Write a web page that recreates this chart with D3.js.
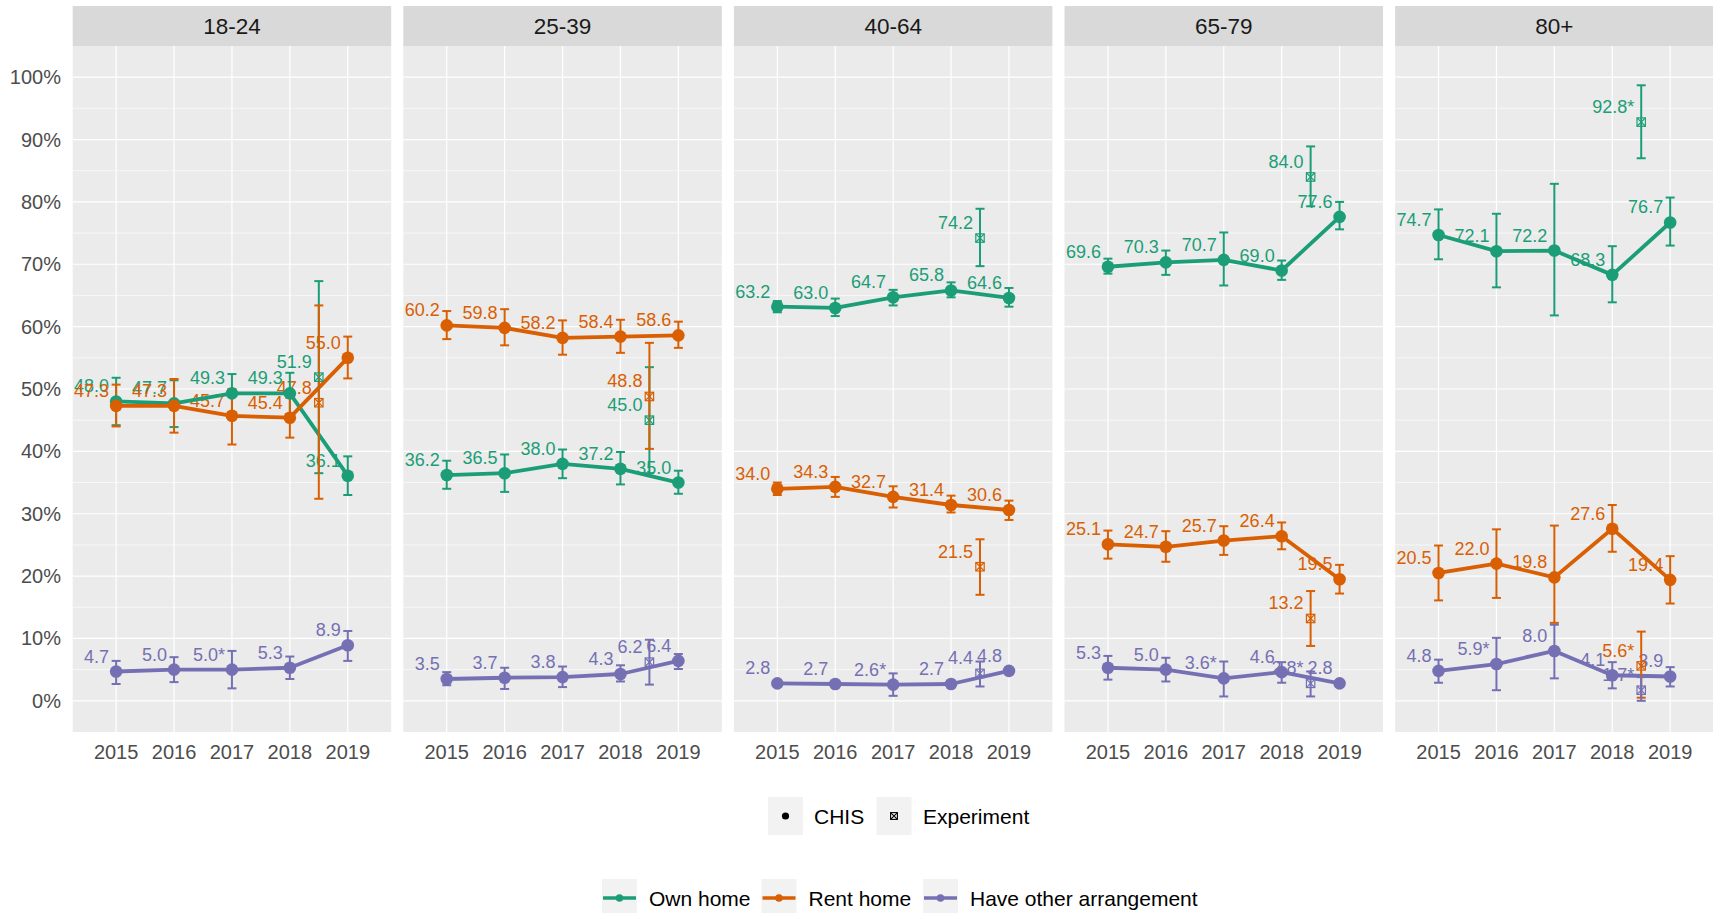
<!DOCTYPE html>
<html>
<head>
<meta charset="utf-8">
<script src="https://cdn.jsdelivr.net/npm/d3@7/dist/d3.min.js"></script>
<style>
  html, body { margin: 0; padding: 0; background: #ffffff; }
  svg { display: block; font-family: "Liberation Sans", Arial, Helvetica, sans-serif; }
</style>
</head>
<body>
<svg id="chart" width="1713" height="913"></svg>
<script>
// ---------------- DATA ----------------
const panels = ["18-24", "25-39", "40-64", "65-79", "80+"];
const years = [2015, 2016, 2017, 2018, 2019];
const expYear = 2018.5;
const seriesNames = ["Own home", "Rent home", "Have other arrangement"];
const seriesColors = ["#1B9E77", "#D95F02", "#7570B3"];
const yTicks = [0, 10, 20, 30, 40, 50, 60, 70, 80, 90, 100];
const sourceNames = ["CHIS", "Experiment"];

// CHIS values [panel][year]
const ownValue  = [[48.0,47.7,49.3,49.3,36.1],[36.2,36.5,38.0,37.2,35.0],[63.2,63.0,64.7,65.8,64.6],[69.6,70.3,70.7,69.0,77.6],[74.7,72.1,72.2,68.3,76.7]];
const ownLow    = [[44.2,43.9,46.2,46.0,33.0],[34.0,33.5,35.7,34.7,33.2],[62.3,61.7,63.4,64.7,63.2],[68.5,68.3,66.6,67.5,75.6],[70.8,66.3,61.8,63.9,73.0]];
const ownHigh   = [[51.8,51.4,52.4,52.6,39.2],[38.5,39.5,40.3,39.9,36.9],[64.1,64.5,65.9,67.1,66.2],[70.9,72.2,75.1,70.6,80.0],[78.8,78.1,82.9,72.9,80.7]];

const rentValue = [[47.3,47.3,45.7,45.4,55.0],[60.2,59.8,58.2,58.4,58.6],[34.0,34.3,32.7,31.4,30.6],[25.1,24.7,25.7,26.4,19.5],[20.5,22.0,19.8,27.6,19.4]];
const rentLow   = [[44.0,43.0,41.1,42.2,51.7],[58.0,57.0,55.5,55.8,56.6],[33.0,32.7,31.0,30.2,29.0],[22.8,22.3,23.4,24.3,17.2],[16.1,16.5,12.5,23.9,15.6]];
const rentHigh  = [[50.7,51.6,50.0,48.6,58.4],[62.5,62.8,61.0,61.1,60.8],[35.0,35.9,34.4,32.9,32.1],[27.3,27.2,28.0,28.6,21.8],[24.9,27.5,28.1,31.4,23.2]];

const otherValue = [[4.7,5.0,5.0,5.3,8.9],[3.5,3.7,3.8,4.3,6.4],[2.8,2.7,2.6,2.7,4.8],[5.3,5.0,3.6,4.6,2.8],[4.8,5.9,8.0,4.1,3.9]];
const otherLow   = [[2.7,3.0,2.0,3.5,6.4],[2.5,1.9,2.2,3.1,5.1],[2.4,2.3,0.8,2.3,4.3],[3.4,3.1,0.7,2.9,2.3],[2.9,1.7,3.6,2.0,2.3]];
const otherHigh  = [[6.4,7.0,8.0,7.1,11.2],[4.6,5.3,5.5,5.7,7.5],[3.2,3.1,4.4,3.1,5.3],[7.2,6.9,6.3,6.2,3.3],[6.6,10.1,12.2,6.2,5.4]];
// asterisk flags (unstable estimate) [panel][year]
const otherStar  = [[0,0,1,0,0],[0,0,0,0,0],[0,0,1,0,0],[0,0,1,0,0],[0,1,0,0,0]];

// Experiment values [panel]
const expOwnValue   = [51.9, 45.0, 74.2, 84.0, 92.8];
const expOwnLow     = [36.5, 36.5, 69.7, 79.3, 87.0];
const expOwnHigh    = [67.3, 53.5, 78.9, 88.9, 98.7];
const expOwnStar    = [0, 0, 0, 0, 1];
const expRentValue  = [47.8, 48.8, 21.5, 13.2, 5.6];
const expRentLow    = [32.4, 40.4, 17.0, 8.8, 0.5];
const expRentHigh   = [63.4, 57.4, 25.9, 17.6, 11.1];
const expRentStar   = [0, 0, 0, 0, 1];
const expOtherValue = [null, 6.2, 4.4, 2.8, 1.7];
const expOtherLow   = [null, 2.6, 2.3, 0.7, 0.0];
const expOtherHigh  = [null, 9.8, 6.3, 4.7, 3.8];
const expOtherStar  = [0, 0, 0, 1, 1];

// ---------------- BUILD ----------------
const chisVals = [ownValue, rentValue, otherValue];
const chisLows = [ownLow, rentLow, otherLow];
const chisHighs = [ownHigh, rentHigh, otherHigh];
const chisStars = [null, null, otherStar];
const expVals = [expOwnValue, expRentValue, expOtherValue];
const expLows = [expOwnLow, expRentLow, expOtherLow];
const expHighs = [expOwnHigh, expRentHigh, expOtherHigh];
const expStars = [expOwnStar, expRentStar, expOtherStar];

const svg = d3.select("#chart");

const panelLeft0 = 72.7, panelStep = 330.6, panelW = 318.5;
const stripTop = 6, stripH = 40, plotTop = 46, plotBottom = 732;

const y = d3.scaleLinear().domain([-5, 105]).range([plotBottom, plotTop]);
const fmt = d3.format(".1f");

// y axis labels (left only)
svg.append("g").selectAll("text").data(yTicks).join("text")
  .attr("x", 61).attr("y", d => y(d) + 7)
  .attr("text-anchor", "end")
  .attr("font-size", 20).attr("fill", "#4D4D4D")
  .text(d => d + "%");

panels.forEach((pname, pi) => {
  const left = panelLeft0 + pi * panelStep;
  const x = d3.scaleLinear().domain([2014.25, 2019.75]).range([left, left + panelW]);
  const g = svg.append("g");

  // strip
  g.append("rect").attr("x", left).attr("y", stripTop).attr("width", panelW).attr("height", stripH).attr("fill", "#D9D9D9");
  g.append("text").attr("x", left + panelW / 2).attr("y", stripTop + stripH / 2 + 8)
    .attr("text-anchor", "middle").attr("font-size", 22.5).attr("fill", "#1A1A1A").text(pname);

  // panel bg
  g.append("rect").attr("x", left).attr("y", plotTop).attr("width", panelW).attr("height", plotBottom - plotTop).attr("fill", "#EBEBEB");

  // minor y grid
  const minor = d3.range(5, 100, 10);
  g.append("g").selectAll("line").data(minor).join("line")
    .attr("x1", left).attr("x2", left + panelW)
    .attr("y1", d => y(d)).attr("y2", d => y(d))
    .attr("stroke", "#ffffff").attr("stroke-width", 0.6);
  // major y grid
  g.append("g").selectAll("line").data(yTicks).join("line")
    .attr("x1", left).attr("x2", left + panelW)
    .attr("y1", d => y(d)).attr("y2", d => y(d))
    .attr("stroke", "#ffffff").attr("stroke-width", 1.2);
  // x grid
  g.append("g").selectAll("line").data(years).join("line")
    .attr("x1", d => x(d)).attr("x2", d => x(d))
    .attr("y1", plotTop).attr("y2", plotBottom)
    .attr("stroke", "#ffffff").attr("stroke-width", 1.2);

  // x axis labels
  g.append("g").selectAll("text").data(years).join("text")
    .attr("x", d => x(d)).attr("y", 759)
    .attr("text-anchor", "middle").attr("font-size", 20).attr("fill", "#4D4D4D")
    .text(d => d);

  // gather records
  const chis = [], exp = [];
  seriesNames.forEach((s, si) => {
    years.forEach((yr, yi) => {
      const v = chisVals[si][pi][yi];
      const star = chisStars[si] ? chisStars[si][pi][yi] : 0;
      chis.push({ si, yr, v, lo: chisLows[si][pi][yi], hi: chisHighs[si][pi][yi], label: fmt(v) + (star ? "*" : "") });
    });
    const ev = expVals[si][pi];
    if (ev !== null) {
      exp.push({ si, yr: expYear, v: ev, lo: expLows[si][pi], hi: expHighs[si][pi], label: fmt(ev) + (expStars[si][pi] ? "*" : "") });
    }
  });

  // text labels (drawn first, beneath marks)
  g.append("g").selectAll("text").data(exp.concat(chis)).join("text")
    .attr("x", d => x(d.yr) - 7).attr("y", d => y(d.v) - 9)
    .attr("text-anchor", "end").attr("font-size", 18)
    .attr("fill", d => seriesColors[d.si])
    .text(d => d.label);

  // lines
  const line = d3.line().x(d => x(d.yr)).y(d => y(d.v));
  seriesNames.forEach((s, si) => {
    g.append("path").datum(chis.filter(d => d.si === si))
      .attr("d", line).attr("fill", "none")
      .attr("stroke", seriesColors[si]).attr("stroke-width", 3.8)
      .attr("stroke-linejoin", "round");
  });

  // error bars
  const cap = 4.5;
  const eb = g.append("g").selectAll("g").data(chis.concat(exp)).join("g")
    .attr("stroke", d => seriesColors[d.si]).attr("stroke-width", 2).attr("fill", "none");
  eb.append("line").attr("x1", d => x(d.yr)).attr("x2", d => x(d.yr)).attr("y1", d => y(d.lo)).attr("y2", d => y(d.hi));
  eb.append("line").attr("x1", d => x(d.yr) - cap).attr("x2", d => x(d.yr) + cap).attr("y1", d => y(d.lo)).attr("y2", d => y(d.lo));
  eb.append("line").attr("x1", d => x(d.yr) - cap).attr("x2", d => x(d.yr) + cap).attr("y1", d => y(d.hi)).attr("y2", d => y(d.hi));

  // CHIS points
  g.append("g").selectAll("circle").data(chis).join("circle")
    .attr("cx", d => x(d.yr)).attr("cy", d => y(d.v)).attr("r", 6.3)
    .attr("fill", d => seriesColors[d.si]);

  // Experiment markers (square with cross)
  const m = 4.2;
  const em = g.append("g").selectAll("g").data(exp).join("g")
    .attr("stroke", d => seriesColors[d.si]).attr("stroke-width", 1.2).attr("fill", "none");
  em.append("rect").attr("x", d => x(d.yr) - m).attr("y", d => y(d.v) - m).attr("width", 2 * m).attr("height", 2 * m);
  em.append("path").attr("d", d => {
    const cx = x(d.yr), cy = y(d.v);
    return `M${cx - m},${cy - m}L${cx + m},${cy + m}M${cx - m},${cy + m}L${cx + m},${cy - m}`;
  });
});

// ---------------- LEGENDS ----------------
const lg = svg.append("g");
// shape legend
const shapeKeys = [{ name: sourceNames[0], kx: 768, tx: 814 }, { name: sourceNames[1], kx: 876.5, tx: 923 }];
shapeKeys.forEach((k, i) => {
  lg.append("rect").attr("x", k.kx).attr("y", 797).attr("width", 35).attr("height", 38).attr("fill", "#F2F2F2");
  const cx = k.kx + 17.5, cy = 816;
  if (i === 0) {
    lg.append("circle").attr("cx", cx).attr("cy", cy).attr("r", 3.6).attr("fill", "#000");
  } else {
    const mm = 3.4;
    lg.append("rect").attr("x", cx - mm).attr("y", cy - mm).attr("width", 2 * mm).attr("height", 2 * mm)
      .attr("fill", "none").attr("stroke", "#000").attr("stroke-width", 1.1);
    lg.append("path").attr("d", `M${cx - mm},${cy - mm}L${cx + mm},${cy + mm}M${cx - mm},${cy + mm}L${cx + mm},${cy - mm}`)
      .attr("stroke", "#000").attr("stroke-width", 1.1);
  }
  lg.append("text").attr("x", k.tx).attr("y", cy + 7.5).attr("font-size", 21).attr("fill", "#000").text(k.name);
});

// colour legend
const colKeys = [{ kx: 602, tx: 649 }, { kx: 761.5, tx: 808.5 }, { kx: 923, tx: 970 }];
seriesNames.forEach((s, si) => {
  const k = colKeys[si];
  const cy = 898;
  lg.append("rect").attr("x", k.kx).attr("y", 879).attr("width", 35).attr("height", 38).attr("fill", "#F2F2F2");
  lg.append("line").attr("x1", k.kx + 1).attr("x2", k.kx + 34).attr("y1", cy).attr("y2", cy)
    .attr("stroke", seriesColors[si]).attr("stroke-width", 3.5);
  lg.append("circle").attr("cx", k.kx + 17.5).attr("cy", cy).attr("r", 3.8).attr("fill", seriesColors[si]);
  lg.append("text").attr("x", k.tx).attr("y", cy + 7.5).attr("font-size", 21).attr("fill", "#000").text(s);
});
</script>
</body>
</html>
